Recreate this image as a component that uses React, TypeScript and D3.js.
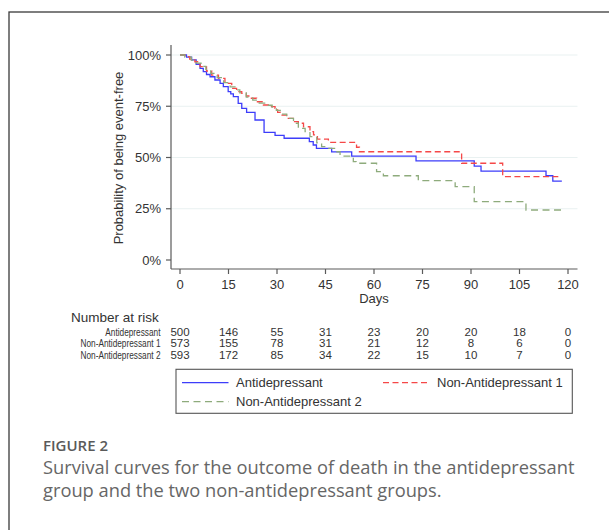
import React from "react";
import * as d3 from "d3";

const W = 609;
const H = 530;

const xTicks = [0, 15, 30, 45, 60, 75, 90, 105, 120];
const yTicks = [0, 0.25, 0.5, 0.75, 1];
const yTickLabels = ["0%", "25%", "50%", "75%", "100%"];
const gridTicks = [0.25, 0.5, 0.75, 1];

const groupNames = ["Antidepressant", "Non-Antidepressant 1", "Non-Antidepressant 2"];
const groupColors = ["#3d3dfa", "#f54848", "#8eab7c"];
const groupDash = [null, "6,3.5", "7,4.5"];

// Kaplan-Meier steps: [day, survival after step]
const antiCurve: [number, number][] = [
  [0, 1.0], [2, 0.99], [3.6, 0.976], [5, 0.955], [6.2, 0.935], [7.2, 0.919], [8.2, 0.905],
  [9.3, 0.894], [10.8, 0.878], [12.4, 0.862], [13.4, 0.846], [14.9, 0.821], [15.7, 0.81],
  [16.5, 0.797], [18.0, 0.764], [19.1, 0.74], [20.6, 0.72], [23.2, 0.683], [26.0, 0.623],
  [29.4, 0.608], [32.2, 0.594], [40.0, 0.577], [41.2, 0.561], [42.2, 0.545], [46.9, 0.527],
  [53.1, 0.507], [73.0, 0.484], [91.0, 0.458], [93.1, 0.434], [113.2, 0.411], [115.3, 0.385],
  [118.1, 0.385],
];
const non1Curve: [number, number][] = [
  [0, 1.0], [1.5, 0.992], [3, 0.98], [4.6, 0.967], [6.2, 0.943], [8.2, 0.922], [9.8, 0.902],
  [11.9, 0.886], [13.9, 0.862], [16.0, 0.837], [17.5, 0.821], [19.1, 0.813], [20.5, 0.8],
  [21.6, 0.789], [23.7, 0.772], [25.8, 0.756], [27.8, 0.748], [29.4, 0.74], [30.2, 0.72],
  [31.0, 0.707], [33.0, 0.691], [35.0, 0.675], [36.6, 0.667], [38.2, 0.65], [40.2, 0.626],
  [41.3, 0.61], [42.5, 0.59], [45.9, 0.574], [54.6, 0.55], [55.5, 0.528], [87.1, 0.472],
  [99.8, 0.407], [117.0, 0.407],
];
const non2Curve: [number, number][] = [
  [0, 1.0], [1.5, 0.99], [3.5, 0.975], [5, 0.96], [6.5, 0.945], [8, 0.93], [9.5, 0.91],
  [11.5, 0.89], [13.5, 0.865], [15.5, 0.845], [17, 0.83], [18.5, 0.815], [20.5, 0.795],
  [22.5, 0.78], [24.5, 0.765], [26.5, 0.755], [28.5, 0.745], [29.8, 0.73], [31.0, 0.712],
  [33.0, 0.691], [35.1, 0.667], [36.6, 0.642], [38.7, 0.626], [40.2, 0.602], [42.3, 0.572],
  [43.8, 0.553], [45, 0.545], [48.5, 0.528], [49.5, 0.507], [53.6, 0.48], [54.5, 0.472],
  [60.8, 0.431], [62.9, 0.411], [73.7, 0.387], [85.1, 0.358], [91.0, 0.285], [107.0, 0.244],
  [118.1, 0.244],
];
const curves = [antiCurve, non1Curve, non2Curve];

const atRiskDays = [0, 15, 30, 45, 60, 75, 90, 105, 120];
const atRiskAnti = [500, 146, 55, 31, 23, 20, 20, 18, 0];
const atRiskNon1 = [573, 155, 78, 31, 21, 12, 8, 6, 0];
const atRiskNon2 = [593, 172, 85, 34, 22, 15, 10, 7, 0];
const atRiskRows = [atRiskAnti, atRiskNon1, atRiskNon2];

const captionTitle = "FIGURE 2";
const captionLines = [
  "Survival curves for the outcome of death in the antidepressant",
  "group and the two non-antidepressant groups.",
];

const FONT = "'Liberation Sans', Arial, Helvetica, sans-serif";
const CAP_FONT = "'Open Sans', 'Noto Sans', sans-serif";
const TXT = "#333";
const AX = "#5a5a5a";

export default function App() {
  const x = d3.scaleLinear().domain([0, 120]).range([180, 568]);
  const y = d3.scaleLinear().domain([0, 1]).range([260, 55]);
  const line = d3
    .line<[number, number]>()
    .x((d) => x(d[0]))
    .y((d) => y(d[1]))
    .curve(d3.curveStepAfter);

  const axisLeft = 171;
  const axisBottom = 269;
  const plotRight = 577.5;

  const rowY = [331.5, 343, 354.5];
  const legendRows = [
    { i: 0, lx: 182, ly: 382.7 },
    { i: 1, lx: 383, ly: 382.7 },
    { i: 2, lx: 182, ly: 401.7 },
  ];

  return (
    <svg
      width={W}
      height={H}
      style={{ position: "absolute", left: 0, top: 0, background: "#fff" }}
    >
      <rect x={9} y={12} width={700} height={700} fill="#fff" stroke="#3a3a3a" strokeWidth={1.3} />

      {/* gridlines */}
      {gridTicks.map((t) => (
        <line key={t} x1={axisLeft} x2={plotRight} y1={y(t)} y2={y(t)} stroke="#e9f1f1" strokeWidth={1.2} />
      ))}

      {/* y axis */}
      <line x1={axisLeft} x2={axisLeft} y1={45} y2={axisBottom} stroke={AX} strokeWidth={1.2} />
      {yTicks.map((t, i) => (
        <g key={t}>
          <line x1={axisLeft - 5} x2={axisLeft} y1={y(t)} y2={y(t)} stroke={AX} strokeWidth={1.2} />
          <text x={161} y={y(t) + 4.6} textAnchor="end" fontFamily={FONT} fontSize={13} fill={TXT}>
            {yTickLabels[i]}
          </text>
        </g>
      ))}
      <text
        transform={`translate(123,${158}) rotate(-90)`}
        textAnchor="middle"
        fontFamily={FONT}
        fontSize={13}
        fill={TXT}
      >
        Probability of being event-free
      </text>

      {/* x axis */}
      <line x1={axisLeft} x2={plotRight} y1={axisBottom} y2={axisBottom} stroke={AX} strokeWidth={1.2} />
      {xTicks.map((t) => (
        <g key={t}>
          <line x1={x(t)} x2={x(t)} y1={axisBottom} y2={axisBottom + 5} stroke={AX} strokeWidth={1.2} />
          <text x={x(t)} y={288.6} textAnchor="middle" fontFamily={FONT} fontSize={13} fill={TXT}>
            {t}
          </text>
        </g>
      ))}
      <text x={x(60)} y={302.5} textAnchor="middle" fontFamily={FONT} fontSize={13} fill={TXT}>
        Days
      </text>

      {/* curves */}
      {curves.map((c, i) => (
        <path
          key={i}
          d={line(c) || ""}
          fill="none"
          stroke={groupColors[i]}
          strokeWidth={1.3}
          strokeDasharray={groupDash[i] || undefined}
        />
      ))}

      {/* number at risk */}
      <text x={71} y={321.5} fontFamily={FONT} fontSize={13.5} fill={TXT}>
        Number at risk
      </text>
      {atRiskRows.map((row, r) => (
        <g key={r}>
          <g transform={`translate(160.5,${rowY[r] + 4.2}) scale(0.72,1)`}>
            <text x={0} y={0} textAnchor="end" fontFamily={FONT} fontSize={11.5} fill={TXT}>
              {groupNames[r]}
            </text>
          </g>
          {row.map((v, j) => (
            <text key={j} x={x(atRiskDays[j])} y={rowY[r] + 4.2} textAnchor="middle" fontFamily={FONT} fontSize={11.5} fill={TXT}>
              {v}
            </text>
          ))}
        </g>
      ))}

      {/* legend */}
      <rect x={176} y={369.3} width={396.3} height={44} fill="#fff" stroke="#555" strokeWidth={1.1} />
      {legendRows.map(({ i, lx, ly }) => (
        <g key={i}>
          <line
            x1={lx}
            x2={lx + 46.5}
            y1={ly}
            y2={ly}
            stroke={groupColors[i]}
            strokeWidth={1.3}
            strokeDasharray={groupDash[i] || undefined}
          />
          <text x={lx + 54} y={ly + 4.6} fontFamily={FONT} fontSize={13} fill={TXT}>
            {groupNames[i]}
          </text>
        </g>
      ))}

      {/* caption */}
      <text x={43} y={451} fontFamily={CAP_FONT} fontSize={15} fontWeight={600} fill="#5a5a5a">
        {captionTitle}
      </text>
      {captionLines.map((l, i) => (
        <text key={i} x={43} y={474 + i * 23} fontFamily={CAP_FONT} fontSize={18.3} fill="#666">
          {l}
        </text>
      ))}
    </svg>
  );
}
